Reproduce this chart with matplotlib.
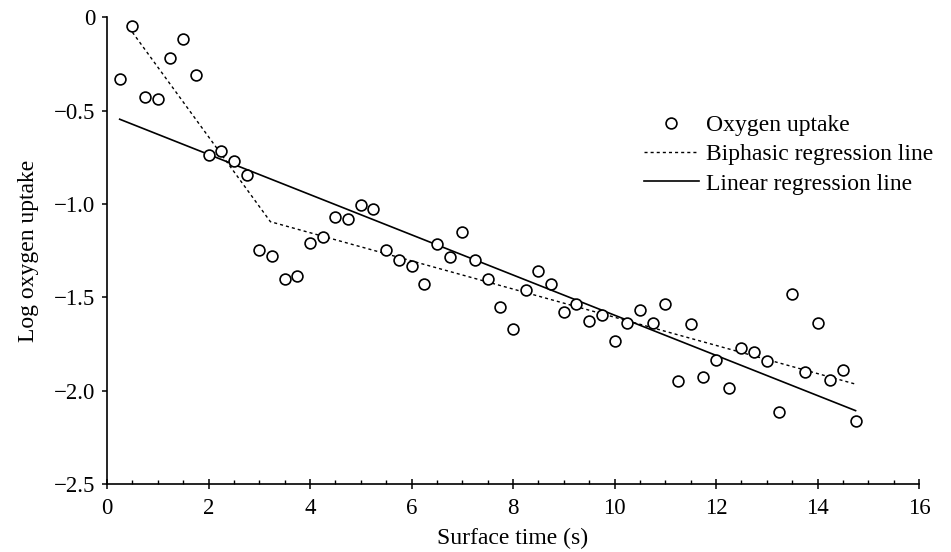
import matplotlib
matplotlib.use("Agg")
import matplotlib.pyplot as plt
from matplotlib.ticker import MultipleLocator
import numpy as np

# surface time (s) and log oxygen uptake
time = np.arange(1, 60) * 0.25
uptake = [-0.33, -0.045, -0.425, -0.44, -0.22, -0.115, -0.31, -0.74, -0.715, -0.77,
          -0.845, -1.245, -1.277, -1.40, -1.385, -1.21, -1.177, -1.07, -1.08, -1.005,
          -1.027, -1.245, -1.30, -1.33, -1.43, -1.215, -1.285, -1.15, -1.30, -1.40,
          -1.55, -1.67, -1.46, -1.36, -1.43, -1.58, -1.535, -1.625, -1.595, -1.735,
          -1.64, -1.57, -1.635, -1.537, -1.95, -1.645, -1.925, -1.835, -1.985, -1.77,
          -1.795, -1.84, -2.115, -1.48, -1.90, -1.635, -1.945, -1.89, -2.16]

# regression lines (end points / break point)
biphasic_x = [0.5, 3.22, 14.75]
biphasic_y = [-0.08, -1.095, -1.965]
linear_x = [0.25, 14.75]
linear_y = [-0.546, -2.107]

xticks = [0, 2, 4, 6, 8, 10, 12, 14, 16]
yticks = [0, -0.5, -1.0, -1.5, -2.0, -2.5]

plt.rcParams['font.family'] = ['Liberation Serif', 'DejaVu Serif']
plt.rcParams['axes.unicode_minus'] = True

fig = plt.figure(figsize=(9.51, 5.52), dpi=100)
ax = fig.add_axes([107 / 951, 1 - 484 / 552, (919 - 107) / 951, (484 - 17.3) / 552])

ax.plot(time, uptake, 'o', ms=7.8, mfc='white', mec='black', mew=1.2,
        label='Oxygen uptake', zorder=3)
ax.plot(biphasic_x, biphasic_y, color='black', lw=1.0, dashes=(2.2, 2.2),
        label='Biphasic regression line')
ax.plot(linear_x, linear_y, color='black', lw=1.2, label='Linear regression line')

ax.set_xlim(0, 16)
ax.set_ylim(-2.5, 0)
ax.set_xticks(xticks)
ax.set_yticks(yticks)
ax.set_yticklabels(['0' if v == 0 else '\u2212%.1f' % abs(v) for v in yticks])
ax.xaxis.set_minor_locator(MultipleLocator(0.5))

for s in ['top', 'right']:
    ax.spines[s].set_visible(False)
for s in ['left', 'bottom']:
    ax.spines[s].set_linewidth(1.2)

ax.tick_params(axis='x', which='major', direction='inout', length=7, width=1.1,
               labelsize=16.5, pad=6.5)
ax.tick_params(axis='x', which='minor', direction='in', length=3, width=1.0)
ax.tick_params(axis='y', which='major', direction='out', length=3.5, width=1.1,
               labelsize=16.5, pad=5)

ax.set_xlabel('Surface time (s)', fontsize=17, labelpad=6.5)
ax.set_ylabel('Log oxygen uptake', fontsize=17, labelpad=11)

ax.legend(loc='upper left', bbox_to_anchor=(0.65, 0.812), frameon=False,
          fontsize=17, handlelength=2.3, handletextpad=0.3, labelspacing=0.33,
          borderaxespad=0)

fig.savefig('out.png', dpi=100)
